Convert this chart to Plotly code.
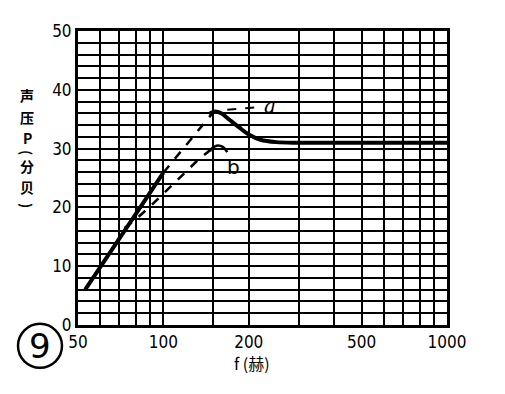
import plotly.graph_objects as go
import math

# ---- data ----
a_rise_f = [53, 60, 70, 80, 90, 100]
a_rise_p = [6.0, 9.8, 14.6, 18.9, 22.6, 25.9]
a_mid_f = [100, 120, 140, 150]
a_mid_p = [25.9, 30.6, 34.5, 36.2]
a_top_f = [145, 152, 160, 170, 185, 200, 220, 250, 300, 500, 1000]
a_top_p = [35.9, 36.3, 36.0, 35.0, 33.6, 32.4, 31.5, 31.1, 31.0, 31.0, 31.0]
b_f = [73, 80, 90, 100, 110, 120, 132, 145, 152]
b_p = [16.5, 18.0, 20.2, 22.3, 24.3, 26.0, 28.0, 29.6, 30.0]
a_leader_f = [168, 222]
a_leader_p = [36.6, 37.1]
b_leader_f = [147, 154, 162, 168]
b_leader_p = [29.9, 30.5, 30.3, 29.4]
label_a = (238, 37.3)
label_b = (176, 26.8)

x_grid = [50, 60, 70, 80, 90, 100, 150, 200, 300, 400, 500, 600, 700, 800, 900, 1000]
x_labels = {50: "50", 100: "100", 200: "200", 500: "500", 1000: "1000"}
y_grid = list(range(0, 51, 2))
y_labels = {0: "0", 10: "10", 20: "20", 30: "30", 40: "40", 50: "50"}

y_title_chars = ["声", "压", "P", "(", "分", "贝", ")"]
y_title_pos = [0.782, 0.707, 0.636, 0.588, 0.541, 0.469, 0.408]
y_title_rot = [0, 0, 0, 90, 0, 0, 90]

num_font = "Liberation Sans Narrow, DejaVu Sans Condensed, Arial Narrow, sans-serif"
cjk_font = "Noto Sans CJK SC, sans-serif"

fig = go.Figure()
fig.add_trace(go.Scatter(x=a_rise_f, y=a_rise_p, mode="lines",
                         line=dict(color="black", width=4), showlegend=False))
fig.add_trace(go.Scatter(x=a_mid_f, y=a_mid_p, mode="lines",
                         line=dict(color="black", width=2.5, dash="dash"), showlegend=False))
fig.add_trace(go.Scatter(x=a_top_f, y=a_top_p, mode="lines", line_shape="spline",
                         line=dict(color="black", width=4), showlegend=False))
fig.add_trace(go.Scatter(x=b_f, y=b_p, mode="lines",
                         line=dict(color="black", width=2.5, dash="dash"), showlegend=False))
fig.add_trace(go.Scatter(x=a_leader_f, y=a_leader_p, mode="lines",
                         line=dict(color="black", width=2, dash="dash"), showlegend=False))
fig.add_trace(go.Scatter(x=b_leader_f, y=b_leader_p, mode="lines", line_shape="spline",
                         line=dict(color="black", width=2.5), showlegend=False))

fig.add_annotation(x=math.log10(label_a[0]), y=label_a[1], text="<i>a</i>", showarrow=False,
                   font=dict(family="DejaVu Serif, serif", size=20, color="black"))
fig.add_annotation(x=math.log10(label_b[0]), y=label_b[1], text="b", showarrow=False,
                   font=dict(family="DejaVu Sans, sans-serif", size=20, color="black"))

# y title (vertical, one character per annotation)
for ch, yp, rot in zip(y_title_chars, y_title_pos, y_title_rot):
    fig.add_annotation(xref="paper", yref="paper", x=-0.138, y=yp, xanchor="center",
                       yanchor="middle", text="<b>" + ch + "</b>", showarrow=False,
                       textangle=rot, borderpad=0,
                       font=dict(family=cjk_font, size=14, color="black"))
# x title
fig.add_annotation(xref="paper", yref="paper", x=0.472, y=-0.13, xanchor="center",
                   yanchor="middle", text="f (赫)", showarrow=False,
                   font=dict(family=cjk_font, size=16, color="black"))
# circled number
fig.add_shape(type="circle", xref="paper", yref="paper",
              xsizemode="pixel", ysizemode="pixel",
              xanchor=-0.103, yanchor=-0.071, x0=-22, x1=22, y0=-22, y1=22,
              line=dict(color="black", width=2.5))
fig.add_annotation(xref="paper", yref="paper", x=-0.103, y=-0.071, xanchor="center",
                   yanchor="middle", text="9", showarrow=False,
                   font=dict(family="DejaVu Sans, sans-serif", size=34, color="black"))

fig.update_xaxes(type="log", range=[math.log10(50), math.log10(1000)],
                 tickvals=x_grid, ticktext=[x_labels.get(v, "") for v in x_grid],
                 showgrid=True, gridcolor="black", gridwidth=2,
                 showline=True, linecolor="black", linewidth=3, mirror=True,
                 ticks="", zeroline=False,
                 tickfont=dict(family=num_font, size=17, color="black"))
fig.update_yaxes(range=[0, 50], tickvals=y_grid,
                 ticktext=[y_labels.get(v, "") for v in y_grid],
                 showgrid=True, gridcolor="black", gridwidth=2,
                 showline=True, linecolor="black", linewidth=3, mirror=True,
                 ticks="", zeroline=False,
                 tickfont=dict(family=num_font, size=17, color="black"))

fig.update_layout(width=497, height=386,
                  margin=dict(l=70, r=58, t=23, b=69),
                  paper_bgcolor="white", plot_bgcolor="white",
                  showlegend=False)

fig.write_html("out.html")
